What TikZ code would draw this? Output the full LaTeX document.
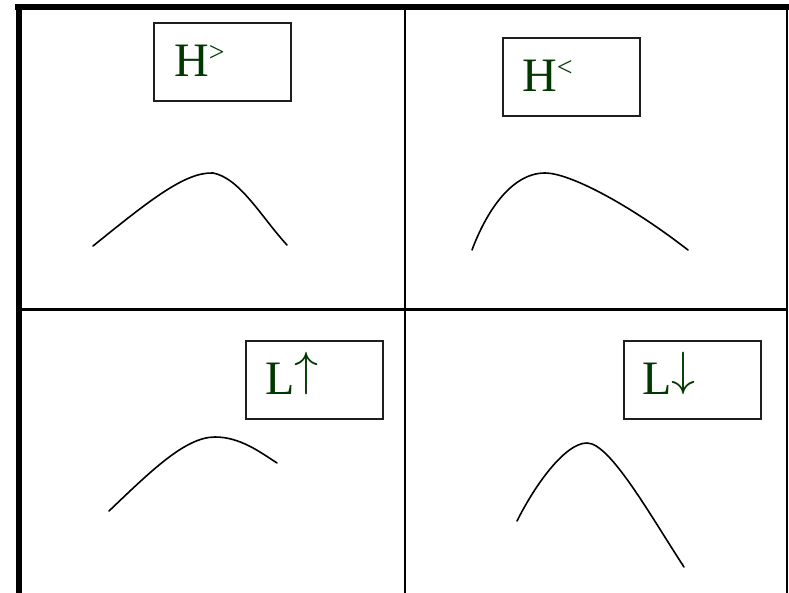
\documentclass[tikz,border=0pt]{standalone}
\usepackage{fix-cm}
\usepackage{fontspec}
\setmainfont{Liberation Serif}
\definecolor{lblgreen}{RGB}{0,56,0}
\definecolor{boxgray}{RGB}{30,30,30}
\begin{document}
\begin{tikzpicture}[x=1pt,y=-1pt,
  thickrule/.style={line width=6pt},
  thinrule/.style={line width=2.4pt},
  framebox/.style={draw=boxgray,line width=1.8pt,minimum width=137pt,minimum height=78pt,anchor=north west,inner sep=0pt},
  lbl/.style={text=lblgreen,font=\fontsize{48}{48}\selectfont,anchor=base west,inner sep=0pt},
  curve/.style={line width=1.6pt,line cap=round}]
\useasboundingbox (0,0) rectangle (789,593);
% frame
\coordinate (tl) at (15,7);
\coordinate (tr) at (789,7);
\coordinate (lt) at (18.5,4);
\coordinate (lb) at (18.5,593);
\coordinate (rt) at (786.5,7);
\coordinate (rb) at (786.5,593);
\coordinate (mt) at (405,7);
\coordinate (mb) at (405,593);
\coordinate (hl) at (18.5,309.5);
\coordinate (hr) at (786.5,309.5);
\draw[line width=2pt] (rt) -- (rb);
\draw[thinrule] (mt) -- (mb);
\draw[thinrule] (hl) -- (hr);
\draw[thickrule] (tl) -- (tr);
\draw[thickrule] (lt) -- (lb);
% boxes
\node[framebox] (b1) at (153,22) {};
\node[framebox] (b2) at (502,37.5) {};
\node[framebox] (b3) at (245,340) {};
\node[framebox] (b4) at (623,340) {};
% labels
\node[lbl] (t1) at (174,76.7) {H\raisebox{15pt}{\fontsize{28}{28}\selectfont >}};
\node[lbl] (t2) at (522,91.7) {H\raisebox{15pt}{\fontsize{28}{28}\selectfont <}};
\node[lbl] (t3) at (265,394) {L\raisebox{9pt}{$\uparrow$}};
\node[lbl] (t4) at (642,394) {L\raisebox{9pt}{$\downarrow$}};
% curves
\draw[curve] (93,246) .. controls (150,200) and (185,172) .. (213,173)
  .. controls (240,178) and (262,218) .. (287,245);
\draw[curve] (472,250) .. controls (485,215) and (510,173) .. (545,173)
  .. controls (570,173) and (630,205) .. (688,250);
\draw[curve] (109,511) .. controls (150,472) and (185,437) .. (215,437)
  .. controls (240,437) and (260,452) .. (277,463);
\draw[curve] (517,521) .. controls (535,485) and (565,443) .. (587,443)
  .. controls (610,443) and (650,515) .. (684,567);
\end{tikzpicture}
\end{document}
